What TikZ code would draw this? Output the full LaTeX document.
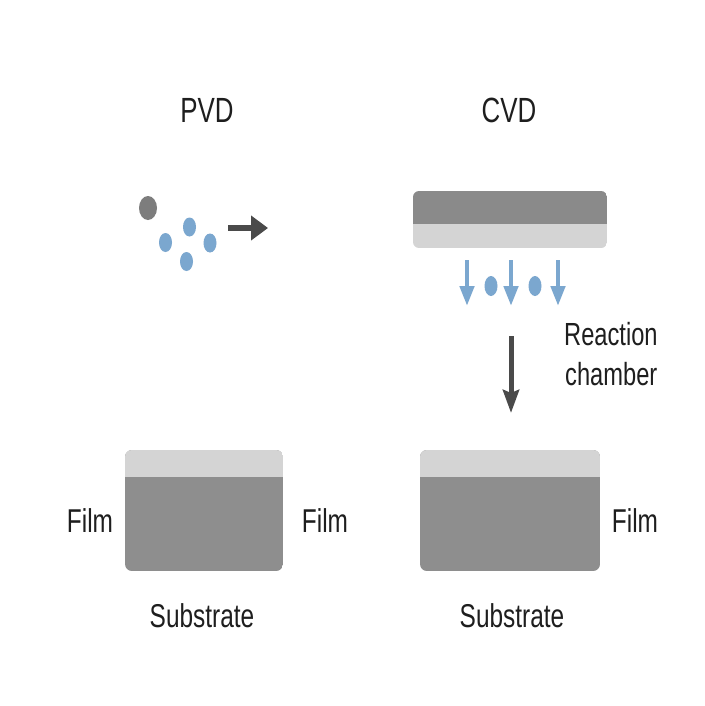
\documentclass[tikz,border=0pt]{standalone}
\usepackage{fontspec}
\setmainfont[FakeStretch=0.74]{Liberation Sans}
\usetikzlibrary{arrows.meta}
\definecolor{txt}{HTML}{1E1E1E}
\definecolor{dot}{HTML}{7D7D7D}
\definecolor{blu}{HTML}{7BA7CF}
\definecolor{arr}{HTML}{4A4A4A}
\definecolor{darkbar}{HTML}{8A8A8A}
\definecolor{lightbar}{HTML}{D4D4D4}
\definecolor{sub}{HTML}{8E8E8E}
\tikzset{
  lbl/.style={text=txt, font=\fontsize{33}{38}\selectfont, inner sep=0pt, anchor=base},
  rcl/.style={text=txt, font=\fontsize{32}{36}\selectfont, inner sep=0pt, anchor=base west},
  ttl/.style={text=txt, font=\fontsize{35}{40}\selectfont, inner sep=0pt, anchor=base},
  bluearrow/.style={draw=blu, line width=4.5pt, -{Triangle[width=14pt,length=20pt]}},
  darkarrow/.style={draw=arr, line width=5pt, -{Stealth[width=16pt,length=23pt,inset=3pt]}},
  pvdarrow/.style={draw=arr, line width=5.5pt, -{Triangle[width=24pt,length=17pt]}},
}
\begin{document}
\begin{tikzpicture}[x=1pt,y=-1pt]
\useasboundingbox[fill=white] (0,0) rectangle (704,706);

% titles
\node[ttl] (pvd) at (207,122) {PVD};
\node[ttl] (cvd) at (509,122) {CVD};

% PVD particles
\fill[dot] (148,208) ellipse [x radius=9, y radius=12];
\fill[blu] (189.5,227) ellipse [x radius=6.5, y radius=9.5];
\fill[blu] (165.5,242.5) ellipse [x radius=6.5, y radius=9.5];
\fill[blu] (210,243) ellipse [x radius=6.5, y radius=9.5];
\fill[blu] (186.5,261.5) ellipse [x radius=6.5, y radius=9.5];
\coordinate (pa1) at (228,228);
\coordinate (pa2) at (268,228);
\draw[pvdarrow] (pa1) -- (pa2);

% CVD source bar
\begin{scope}
\clip[rounded corners=6pt] (413,191) rectangle (607,248);
\fill[darkbar] (413,191) rectangle (607,224);
\fill[lightbar] (413,224) rectangle (607,248);
\end{scope}
\node[inner sep=0pt, minimum width=194pt, minimum height=57pt] (bar) at (510,219.5) {};

% CVD blue arrows and dots
\foreach \xx/\nm in {467/a, 511/b, 558/c} {
  \coordinate (s\nm) at (\xx,260);
  \coordinate (e\nm) at (\xx,306);
  \draw[bluearrow] (s\nm) -- (e\nm);
}
\fill[blu] (491,286) ellipse [x radius=6.5, y radius=10];
\fill[blu] (535,286) ellipse [x radius=6.5, y radius=10];

% reaction chamber
\node[rcl] (rc1) at (564,345) {Reaction};
\node[rcl] (rc2) at (565,385) {chamber};
\coordinate (ca1) at (511,336);
\coordinate (ca2) at (511,413);
\draw[darkarrow] (ca1) -- (ca2);

% PVD substrate
\begin{scope}
\clip[rounded corners=7pt] (125,450) rectangle (283,571);
\fill[sub] (125,450) rectangle (283,571);
\fill[lightbar] (125,450) rectangle (283,477);
\end{scope}
\node[inner sep=0pt, minimum width=158pt, minimum height=121pt] (psub) at (204,510.5) {};

% CVD substrate
\begin{scope}
\clip[rounded corners=7pt] (420,450) rectangle (600,571);
\fill[sub] (420,450) rectangle (600,571);
\fill[lightbar] (420,450) rectangle (600,477);
\end{scope}
\node[inner sep=0pt, minimum width=180pt, minimum height=121pt] (csub) at (510,510.5) {};

% labels
\node[lbl] (f1) at (90,532) {Film};
\node[lbl] (f2) at (325,532) {Film};
\node[lbl] (f3) at (635,532) {Film};
\node[lbl] (s1) at (202,627) {Substrate};
\node[lbl] (s2) at (512,627) {Substrate};
\end{tikzpicture}
\end{document}
